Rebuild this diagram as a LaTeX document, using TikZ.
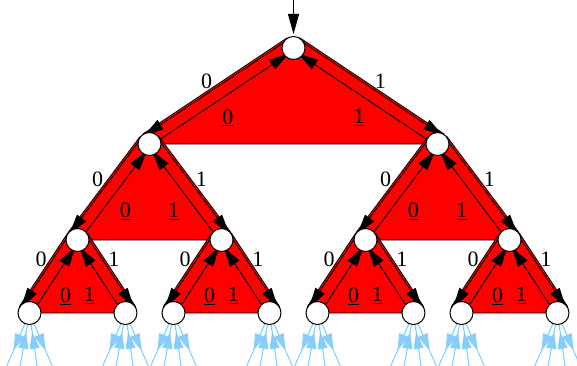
\documentclass[tikz,border=0pt]{standalone}
\usepackage{fontspec}
\setmainfont{Liberation Serif}
\usetikzlibrary{arrows.meta,calc,backgrounds,decorations.markings}
\definecolor{skyb}{RGB}{135,206,250}
\tikzset{
  vertex/.style={circle,draw,line width=1pt,fill=white,minimum size=23pt,inner sep=0pt},
  wedge/.style={fill=red,draw=black,line width=0.8pt,line join=round},
  down/.style={line width=0.9pt,-{Triangle[length=20pt,width=11pt]}},
  up/.style={line width=0.9pt,-{Triangle[length=20pt,width=11pt]},shorten <=11pt,shorten >=7pt},
  lbl/.style={font=\fontsize{22}{26}\selectfont,inner sep=0pt},
  leafdown/.style={color=skyb,line width=1.1pt,postaction={decorate},
    decoration={markings,mark=at position 29pt with {\arrow{Triangle[length=17pt,width=10pt]}}}},
  leafup/.style={color=skyb,line width=1.1pt,postaction={decorate},
    decoration={markings,mark=at position -7pt with {\arrow{Triangle[length=17pt,width=10pt]}}}}
}
\begin{document}
\begin{tikzpicture}[x=1pt,y=1pt]
\useasboundingbox (0,0) rectangle (577,365);
% the tree
\node[vertex] (n) at (293.5,317) {};
\node[vertex] (n0) at (149.5,221) {};
\node[vertex] (n1) at (437.5,221) {};
\foreach \x/\n in {77.5/n00,221.5/n01,365.5/n10,509.5/n11}
  \node[vertex] (\n) at (\x,125) {};
\foreach \x/\n in {29.5/n000,125.5/n001,173.5/n010,269.5/n011,317.5/n100,413.5/n101,461.5/n110,557.5/n111}
  \node[vertex] (\n) at (\x,52) {};
\coordinate (in) at (293.5,365);
\draw[down,shorten >=2pt] (in) -- (n);

\begin{pgfonlayer}{background}
% one red wedge per inner node
\foreach \p/\a/\b/\t/\s in {n/124/56/.52/.45, n0/143/37/.52/.47, n1/143/37/.52/.47,
    n00/147/33/.45/.46, n01/147/33/.45/.46, n10/147/33/.45/.46, n11/147/33/.45/.46}{
  \draw[wedge] (\p0.\a) -- (\p.\a) -- (\p.\b) -- (\p1.\b) -- (\p1.center) -- (\p0.center) -- cycle;
  \draw[down] ($(\p.\a)!2pt!90:(\p0.\a)$) -- node[lbl,pos=\t,above left=0.5pt] {0} ($(\p0.\a)!2pt!-90:(\p.\a)$);
  \draw[down] ($(\p.\b)!2pt!-90:(\p1.\b)$) -- node[lbl,pos=\t,above right=0.5pt] {1} ($(\p1.\b)!2pt!90:(\p.\b)$);
  \draw[up] ($(\p0)!2pt!-90:(\p)$) -- node[lbl,pos=\s,below right=6.5pt] {\underline{0}} ($(\p)!2pt!90:(\p0)$);
  \draw[up] ($(\p1)!2pt!90:(\p)$) -- node[lbl,pos=\s,below left=6.5pt] {\underline{1}} ($(\p)!2pt!-90:(\p1)$);
}
% light blue stubs below the leaves
\foreach \n in {n000,n001,n010,n011,n100,n101,n110,n111}{
  \coordinate (\n-a) at ($(\n)+(-24,-56)$);
  \coordinate (\n-b) at ($(\n)+(-10,-56)$);
  \coordinate (\n-c) at ($(\n)+(8,-56)$);
  \coordinate (\n-d) at ($(\n)+(24,-56)$);
  \draw[leafdown] (\n) -- (\n-a);
  \draw[leafup] (\n-b) -- (\n);
  \draw[leafup] (\n-c) -- (\n);
  \draw[leafdown] (\n) -- (\n-d);
}
\end{pgfonlayer}
\end{tikzpicture}
\end{document}
